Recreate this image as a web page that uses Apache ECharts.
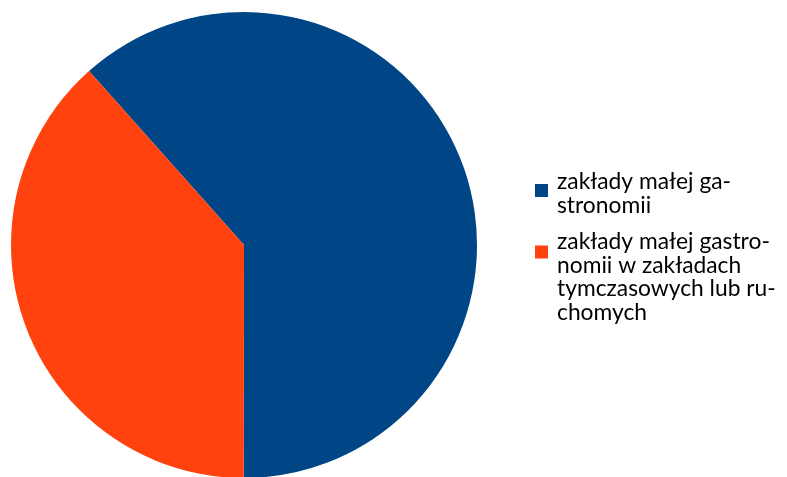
<!DOCTYPE html>
<html lang="pl">
<head>
<meta charset="UTF-8">
<title>Zakłady małej gastronomii</title>
<script src="https://cdn.jsdelivr.net/npm/echarts@6/dist/echarts.min.js"></script>
<style>
  html, body { margin: 0; padding: 0; background: #fff; }
  #main { width: 787px; height: 477px; }
</style>
</head>
<body>
<div id="main"></div>
<script>
// nazwy kategorii (z podziałem jak w legendzie)
var categories = [
  "zakłady małej ga-\nstronomii",
  "zakłady małej gastro-\nnomii w zakładach\ntymczasowych lub ru-\nchomych"
];
// udział w %
var values = [61.6, 38.4];
var colors = ["#004586", "#ff420e"];

// ikonka: kwadrat 13px u góry pola, reszta pusta (żeby kwadrat stał przy 1. linii)
function squareIcon(w, h, top) {
  return "path://M0," + top + "h13v13h-13z M0,0 M" + w + "," + h;
}
var legendText = {
  fontFamily: "Lato",
  fontSize: 22.8,
  lineHeight: 23.5,
  color: "#000"
};

var myChart = echarts.init(document.getElementById("main"));
myChart.setOption({
  animation: false,
  color: colors,
  legend: [{
    orient: "vertical",
    left: 535,
    top: 170,
    padding: 0,
    itemWidth: 17,
    itemHeight: 47,
    textStyle: legendText,
    data: [{ name: categories[0], icon: squareIcon(17, 47, 14) }]
  }, {
    orient: "vertical",
    left: 535,
    top: 230,
    padding: 0,
    itemWidth: 17,
    itemHeight: 94,
    textStyle: legendText,
    data: [{ name: categories[1], icon: squareIcon(17, 94, 15.5) }]
  }],
  series: [{
    type: "pie",
    center: [244, 245],
    radius: 233,
    startAngle: 131.7,
    clockwise: true,
    label: { show: false },
    labelLine: { show: false },
    itemStyle: { borderWidth: 0 },
    emphasis: { disabled: true },
    data: categories.map(function (c, i) {
      return { name: c, value: values[i] };
    })
  }]
});
</script>
</body>
</html>
